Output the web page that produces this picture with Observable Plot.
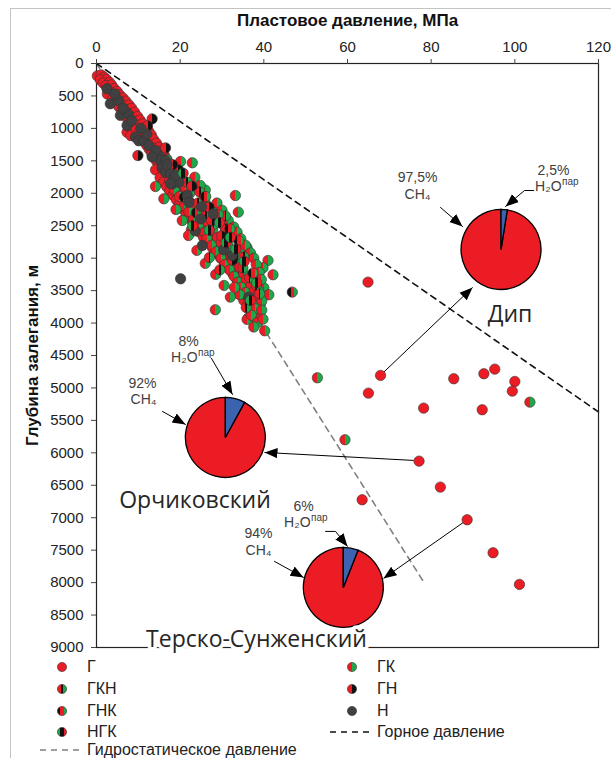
<!DOCTYPE html>
<html><head><meta charset="utf-8">
<script src="https://cdn.jsdelivr.net/npm/d3@7"></script>
<script src="https://cdn.jsdelivr.net/npm/@observablehq/plot@0.6"></script>
<style>
html,body{margin:0;padding:0;background:#fff;}
body{width:611px;height:758px;overflow:hidden;position:relative;font-family:"Liberation Sans",Arial,"DejaVu Sans",sans-serif;}
#chart{position:absolute;left:0;top:0;}
#border{position:absolute;left:10px;top:8px;width:720px;height:800px;border:1px solid #c4c4c4;pointer-events:none;}
.lgt{position:absolute;font-size:16px;color:#222;line-height:16px;height:16px;white-space:nowrap;}
.lgm{position:absolute;}
</style></head>
<body>
<div id="chart"></div>
<div id="legend"></div>
<div id="border"></div>
<script>
// ---------- axes ----------
const xTicks = [0, 20, 40, 60, 80, 100, 120];
const yTicks = [0, 500, 1000, 1500, 2000, 2500, 3000, 3500, 4000, 4500, 5000, 5500, 6000, 6500, 7000, 7500, 8000, 8500, 9000];
const xTitle = "Пластовое давление, МПа";
const yTitle = "Глубина залегания, м";

// ---------- point series: [pressure MPa, depth m] ----------
const typeNames = ["Г", "ГК", "ГКН", "ГН", "ГНК", "Н", "НГК"];
const pointsG = [[0.2,190],[1.1,175],[1.8,210],[0.9,250],[2.4,245],[1.6,300],[3.1,290],[2.3,340],[3.6,330],[2.9,395],[4.2,385],[3.5,450],[4.9,430],[2.6,470],[4.4,505],[5.5,480],[3.8,545],[5.1,560],[6.3,530],[4.6,610],[6.0,600],[7.0,580],[5.4,670],[6.7,655],[7.8,640],[6.1,720],[7.3,710],[8.4,690],[6.8,790],[8.0,770],[9.1,750],[7.4,850],[8.7,835],[9.8,815],[8.1,905],[9.4,890],[10.4,870],[7.3,1060],[8.2,1110],[8.9,960],[10.0,950],[11.1,930],[9.5,1020],[10.7,1005],[11.8,985],[10.1,1075],[11.3,1060],[12.5,1045],[10.7,1140],[11.9,1120],[13.1,1100],[14.0,1230],[11.3,1200],[12.6,1185],[13.6,1165],[12.0,1260],[13.2,1250],[14.3,1225],[12.6,1320],[13.8,1310],[15.0,1290],[13.2,1385],[14.4,1370],[15.6,1350],[13.8,1450],[15.0,1430],[16.2,1410],[14.4,1510],[15.6,1495],[16.8,1475],[15.0,1570],[16.3,1560],[17.4,1540],[14.1,1640],[15.8,1635],[17.0,1620],[16.4,1700],[17.7,1685],[15.2,1760],[17.1,1765],[18.4,1745],[16.0,1830],[17.8,1825],[19.0,1805],[16.8,1900],[18.5,1890],[19.7,1870],[17.5,1965],[19.2,1955],[20.4,1935],[18.3,2030],[20.0,2020],[21.1,2000],[19.1,2100],[20.8,2090],[19.8,2170],[21.6,2160],[22.4,2140],[20.6,2240],[22.3,2230],[21.4,2310],[23.1,2300],[22.2,2380],[24.0,2370],[23.0,2450],[24.8,2440],[23.8,2520],[25.6,2510],[24.7,2600],[26.4,2590],[25.6,2680],[27.3,2670],[26.6,2760],[28.3,2750],[27.7,2840],[29.3,2830],[28.7,2920],[30.3,2910],[29.7,3000],[31.3,2990],[30.7,3080],[32.2,3070],[31.6,3160],[33.1,3150],[32.6,3240],[34.0,3230],[33.5,3320],[35.0,3310],[34.4,3400],[35.9,3390],[35.3,3480],[36.8,3470],[34.3,3560],[36.3,3570],[37.6,3555],[35.2,3650],[37.2,3650],[36.2,3730],[38.1,3735],[37.1,3820],[38.8,3860],[36.3,3920],
  [64.9,3369],[67.9,4807],[65.0,5080],[85.4,4858],[92.6,4781],[95.2,4710],[100.0,4900],[99.4,5049],[78.2,5311],[92.2,5336],[77.1,6128],[82.2,6528],[63.5,6723],[88.6,7031],[94.8,7540],[101.1,8028]];
const pointsGK = [[20.1,1510],[22.9,1530],[23.5,1752],[33.2,2034],[33.9,2291],[28.1,2255],[36.0,2840],[41.0,3035],[39.8,3148],[42.2,3256],[40.0,3456],[41.2,3564],[37.4,3344],[36.4,3436],[28.4,3795],[36.0,3944],[38.8,3872],[40.2,4119],[39.2,3700],
  [16.8,1480],[18.0,1620],[19.1,1700],[17.5,1800],[20.3,1780],[18.6,1950],[21.2,1900],[19.8,2050],[22.3,2000],[14.1,1895],[16.1,2085],[21.0,2200],[23.5,2180],[22.1,2280],[24.8,2260],[23.2,2400],[25.9,2350],[24.5,2480],[26.6,2450],[22.7,2560],[25.8,2600],[27.8,2560],[26.4,2700],[28.9,2680],[27.5,2800],[29.8,2760],[28.6,2900],[31.0,2880],[29.8,3000],[32.1,2980],[30.6,3100],[33.0,3060],[31.8,3180],[34.3,3140],[32.9,3280],[35.2,3250],[33.8,3370],[35.8,3330],[34.6,3450],[36.9,3420],[35.6,3530],[37.8,3500],[36.4,3620],[38.6,3590],[37.3,3700],[39.5,3660],[38.0,3780],[37.0,3880],[39.5,3800],[38.5,3990],[39.8,3940],[37.6,4060],[34.2,3560],[33.0,3450],
  [19.0,2250],[20.5,2420],[22.0,2650],[24.0,2880],[26.0,3080],[28.5,3250],[30.5,3420],[32.0,3600],[26.0,2150],[28.5,2330],[30.5,2500],[32.5,2620],[34.5,2850],[38.8,3500],
  [31.5,2420],[32.8,2520],[33.6,2600],[34.5,2700],[35.6,2800],[36.8,2920],[37.6,3000],[38.2,3100],[38.9,3220],[39.4,3330],[28.8,2150],[30.0,2260],[26.0,1950],[24.8,1880],
  [52.8,4843],[103.6,5219],[59.4,5798]];
const pointsGKN = [[21.7,1830],[24.3,2150],[26.2,2320],[28.0,2480],[30.2,2640],[31.4,2780],[33.6,2950],[35.0,3150],[36.6,3300],[38.2,3420],[39.0,3550],[35.8,3760],[30.9,2550],[24.7,1980],[27.0,2990],[29.5,3180],[30.8,2350],[35.2,2980]];
const pointsGN = [[13.3,853],[9.9,1418],[26.9,2214],[25.9,2060],[19.6,1640],[22.8,1890],[27.5,2420],[29.9,2660],[32.5,3030],[16.5,1300],[12.2,960],[18.2,1560]];
const pointsGNK = [[31.9,2548],[46.8,3523],[26.1,2050],[29.1,2330],[34.0,2730],[37.4,3230],[23.9,2300],[21.0,2060]];
const pointsN = [[2.5,390],[3.3,620],[5.3,570],[5.7,800],[7.6,780],[7.3,955],[9.3,1135],[10.1,1190],[11.3,1190],[12.5,1265],[14.9,1418],[15.3,1495],[16.5,1495],[15.7,1600],[16.5,1675],[17.7,1700],[18.5,1750],[19.3,1750],[18.1,1855],[16.9,1560],[21.7,2035],[24.9,2395],[27.9,2316],[25.3,2804],[32.4,2958],[20.1,3318],[36.4,3600],[14.1,1340],[13.3,1440],[19.7,1830],[22.1,2140],[23.6,2580],[30.4,2870],[12.0,1090],[8.4,880],[4.4,470],[6.4,690],[10.6,1000],[18.9,1726],[17.7,1849],[25.1,2210]];
const pointsNGK = [[20.7,1690],[27.0,2570],[31.0,2760],[35.3,3050],[38.3,3380],[36.8,3650],[29.4,2450],[33.3,2860],[23.0,2500],[32.0,2680]];
const seriesPoints = [pointsG, pointsGK, pointsGKN, pointsGN, pointsGNK, pointsN, pointsNGK];

// ---------- pressure gradient lines ----------
const lithoLine = [[0, 0], [120, 5370]];
const hydroLine = [[0, 0], [78.3, 8000]];
const lithoLabel = "Горное давление";
const hydroLabel = "Гидростатическое давление";

// ---------- pies (composition) ----------
const pieNames = ["Дип", "Орчиковский", "Терско-Сунженский"];
const piePressure = [96.7, 30.8, 59.0];
const pieDepth = [2866, 5763, 8074];
const pieH2O = [2.5, 8, 6];
const pieCH4 = [97.5, 92, 94];
const pieNameX = [98.85, 23.55, 38.25];
const pieNameY = [3867, 6733, 8875];

// pie text labels
const pctText = ["97,5%", "CH₄", "2,5%", "8%", "92%", "CH₄", "6%", "94%", "CH₄"];
const pctX = [76.74, 76.74, 109.25, 21.99, 11.0, 11.24, 49.49, 38.73, 38.73];
const pctY = [1757, 2018, 1649, 4284, 4931, 5177, 6826, 7242, 7504];
const h2oX = [111.16, 24.15, 51.16];
const h2oY = [1895, 4530, 7072];
const parX = [111.28, 24.27, 51.28];
const parY = [1818, 4453, 6995];

// leader arrows (label -> pie)
const leaderId = [0,0, 1,1,1, 2,2, 3,3, 4,4, 5,5,5];
const leaderX = [82.24,87.50, 104.47,102.32,97.78, 15.78,21.28, 27.49,32.51, 42.55,49.49, 54.75,57.14,60.0];
const leaderY = [2219,2512, 1957,1957,2203, 5362,5562, 4545,5100, 7673,7920, 7211,7211,7442];

// callout arrows (well point -> pie)
const calloutX1 = [68.6, 75.8, 87.7];
const calloutY1 = [4761, 6117, 7072];
const calloutX2 = [89.9, 40.16, 68.6];
const calloutY2 = [3451, 5994, 7935];

// ---------- styles ----------
const RED = "#ec1c24", GREEN = "#1ea84b", BLK = "#111111", GRAY = "#404040", BLUE = "#3b63b0";
const typeStops = [
  [[RED,0,1]],
  [[RED,0,0.5],[GREEN,0.5,1]],
  [[RED,0,0.42],[BLK,0.42,0.58],[GREEN,0.58,1]],
  [[RED,0,0.5],[BLK,0.5,1]],
  [[BLK,0,0.33],[RED,0.33,0.67],[GREEN,0.67,1]],
  [[GRAY,0,1]],
  [[GREEN,0,0.33],[BLK,0.33,0.67],[RED,0.67,1]]
];

// defs: gradients for split-colour markers
const defsSvg = d3.select("body").append("svg").attr("width", 0).attr("height", 0)
  .style("position", "absolute").style("left", 0).style("top", 0);
const defs = defsSvg.append("defs");
typeStops.forEach((stops, i) => {
  const g = defs.append("linearGradient").attr("id", "pt" + i)
    .attr("x1", 0).attr("x2", 1).attr("y1", 0).attr("y2", 0);
  stops.forEach(([c, a, b]) => {
    g.append("stop").attr("offset", a).attr("stop-color", c);
    g.append("stop").attr("offset", b).attr("stop-color", c);
  });
});

// wedge symbol for pie slices (fractions of full turn, clockwise from 12 o'clock)
function wedge(f0, f1) {
  return {
    draw(ctx, size) {
      const r = Math.sqrt(size / Math.PI);
      const a0 = -Math.PI / 2 + f0 * 2 * Math.PI, a1 = -Math.PI / 2 + f1 * 2 * Math.PI;
      ctx.moveTo(0, 0);
      ctx.arc(0, 0, r, a0, a1);
      ctx.closePath();
    }
  };
}

const pies = pieNames.map((n, i) => ({name: n, x: piePressure[i], y: pieDepth[i], h2o: pieH2O[i], ch4: pieCH4[i]}));
const pieMarks = pies.flatMap(p => [
  Plot.dot([p], {x: "x", y: "y", r: 40, symbol: wedge(p.h2o / 100, 1), fill: RED, stroke: "#000", strokeWidth: 1.3}),
  Plot.dot([p], {x: "x", y: "y", r: 40, symbol: wedge(0, p.h2o / 100), fill: BLUE, stroke: "#000", strokeWidth: 1.3})
]);

const leaders = leaderId.map((id, i) => ({id, x: leaderX[i], y: leaderY[i]}));
const callouts = calloutX1.map((x1, i) => ({x1, y1: calloutY1[i], x2: calloutX2[i], y2: calloutY2[i]}));
const pctLabels = pctText.map((t, i) => ({t, x: pctX[i], y: pctY[i]}));
const h2oLabels = h2oX.map((x, i) => ({x, y: h2oY[i]}));
const parLabels = parX.map((x, i) => ({x, y: parY[i]}));
const nameLabels = pieNames.map((n, i) => ({n, x: pieNameX[i], y: pieNameY[i]}));

const dotMarks = seriesPoints.map((pts, i) =>
  Plot.dot(pts, {x: d => d[0], y: d => d[1], r: 5.2, fill: `url(#pt${i})`, stroke: "#333", strokeWidth: 0.6}));

const chart = Plot.plot({
  width: 611, height: 655,
  marginLeft: 96, marginRight: 13, marginTop: 63, marginBottom: 8,
  style: {fontFamily: '"Liberation Sans", Arial, "DejaVu Sans", sans-serif', fontSize: "15px", color: "#222", background: "transparent"},
  x: {domain: [0, 120]},
  y: {domain: [0, 9000], reverse: true},
  marks: [
    Plot.line(hydroLine, {x: d => d[0], y: d => d[1], stroke: "#808080", strokeWidth: 1.6, strokeDasharray: "6,5"}),
    Plot.line(lithoLine, {x: d => d[0], y: d => d[1], stroke: "#111", strokeWidth: 1.6, strokeDasharray: "6,5"}),
    Plot.frame({stroke: "#222", strokeWidth: 1.2}),
    Plot.axisX({anchor: "top", ticks: xTicks, tickSize: 5, tickPadding: 7, label: null, stroke: "#444", fill: "#222", fontSize: 15}),
    Plot.axisY({anchor: "left", ticks: yTicks, tickSize: 5, tickPadding: 8, label: null, tickFormat: d => String(d), stroke: "#444", fill: "#222", fontSize: 15}),
    Plot.text([xTitle], {text: d => d, frameAnchor: "top", dy: -43, textAnchor: "middle", lineAnchor: "middle", fontWeight: "bold", fontSize: 17, fill: "#111"}),
    Plot.text([yTitle], {text: d => d, frameAnchor: "left", dx: -64, rotate: -90, textAnchor: "middle", lineAnchor: "middle", fontWeight: "bold", fontSize: 17, fill: "#111"}),
    Plot.link(callouts, {x1: "x1", y1: "y1", x2: "x2", y2: "y2", stroke: "#000", strokeWidth: 1, markerEnd: "arrow"}),
    ...dotMarks,
    Plot.line(leaders, {x: "x", y: "y", z: "id", stroke: "#000", strokeWidth: 1, markerEnd: "arrow"}),
    ...pieMarks,
    Plot.text(pctLabels, {x: "x", y: "y", text: "t", fontSize: 14, fill: "#404040", textAnchor: "middle"}),
    Plot.text(h2oLabels, {x: "x", y: "y", text: () => "H₂O", fontSize: 14, fill: "#404040", textAnchor: "end"}),
    Plot.text(parLabels, {x: "x", y: "y", text: () => "пар", fontSize: 10, fill: "#404040", textAnchor: "start"}),
    Plot.text(nameLabels, {x: "x", y: "y", text: "n", fontSize: 23, fill: "#262626", fontFamily: '"Open Sans", "Noto Sans", sans-serif', stroke: "white", strokeWidth: 7, textAnchor: "middle"})
  ]
});
document.getElementById("chart").appendChild(chart);
// restyle Plot's arrow markers as filled triangular heads
d3.select(chart).selectAll("marker").each(function () {
  const m = d3.select(this);
  m.attr("viewBox", "-5 -5 10 10").attr("refX", 5).attr("refY", 0)
    .attr("markerWidth", 13).attr("markerHeight", 13).attr("markerUnits", "userSpaceOnUse")
    .attr("fill", "#000").attr("stroke", "none");
  m.selectAll("*").remove();
  m.append("path").attr("d", "M-5,-4L5,0L-5,4Z");
});

// ---------- legend (HTML below the plot) ----------
const legendTypeCol = [0, 1, 0, 1, 0, 1, 0];
const legendTypeRow = [0, 0, 1, 1, 2, 2, 3];
const legendColMarkerX = [62, 352];
const legendColTextX = [87, 377];
const legendRowY = [667, 689, 711, 732, 750];
const lg = d3.select("#legend");
typeNames.forEach((name, i) => {
  const cx = legendColMarkerX[legendTypeCol[i]], cy = legendRowY[legendTypeRow[i]];
  const s = lg.append("svg").attr("class", "lgm").attr("width", 12).attr("height", 12)
    .style("left", (cx - 6) + "px").style("top", (cy - 6) + "px");
  s.append("circle").attr("cx", 6).attr("cy", 6).attr("r", 4.6)
    .attr("fill", `url(#pt${i})`).attr("stroke", "#333").attr("stroke-width", 0.6);
  lg.append("div").attr("class", "lgt").style("left", legendColTextX[legendTypeCol[i]] + "px")
    .style("top", (cy - 8) + "px").text(name);
});
function legendLine(x0, x1, y, color, tx, label) {
  const s = lg.append("svg").attr("class", "lgm").attr("width", x1 - x0).attr("height", 4)
    .style("left", x0 + "px").style("top", (y - 2) + "px");
  s.append("line").attr("x1", 0).attr("x2", x1 - x0).attr("y1", 2).attr("y2", 2)
    .attr("stroke", color).attr("stroke-width", 1.6).attr("stroke-dasharray", "6,5");
  lg.append("div").attr("class", "lgt").style("left", tx + "px").style("top", (y - 8) + "px").text(label);
}
legendLine(330, 372, legendRowY[3], "#111", 377, lithoLabel);
legendLine(40, 81, legendRowY[4], "#808080", 87, hydroLabel);
</script>
</body></html>
